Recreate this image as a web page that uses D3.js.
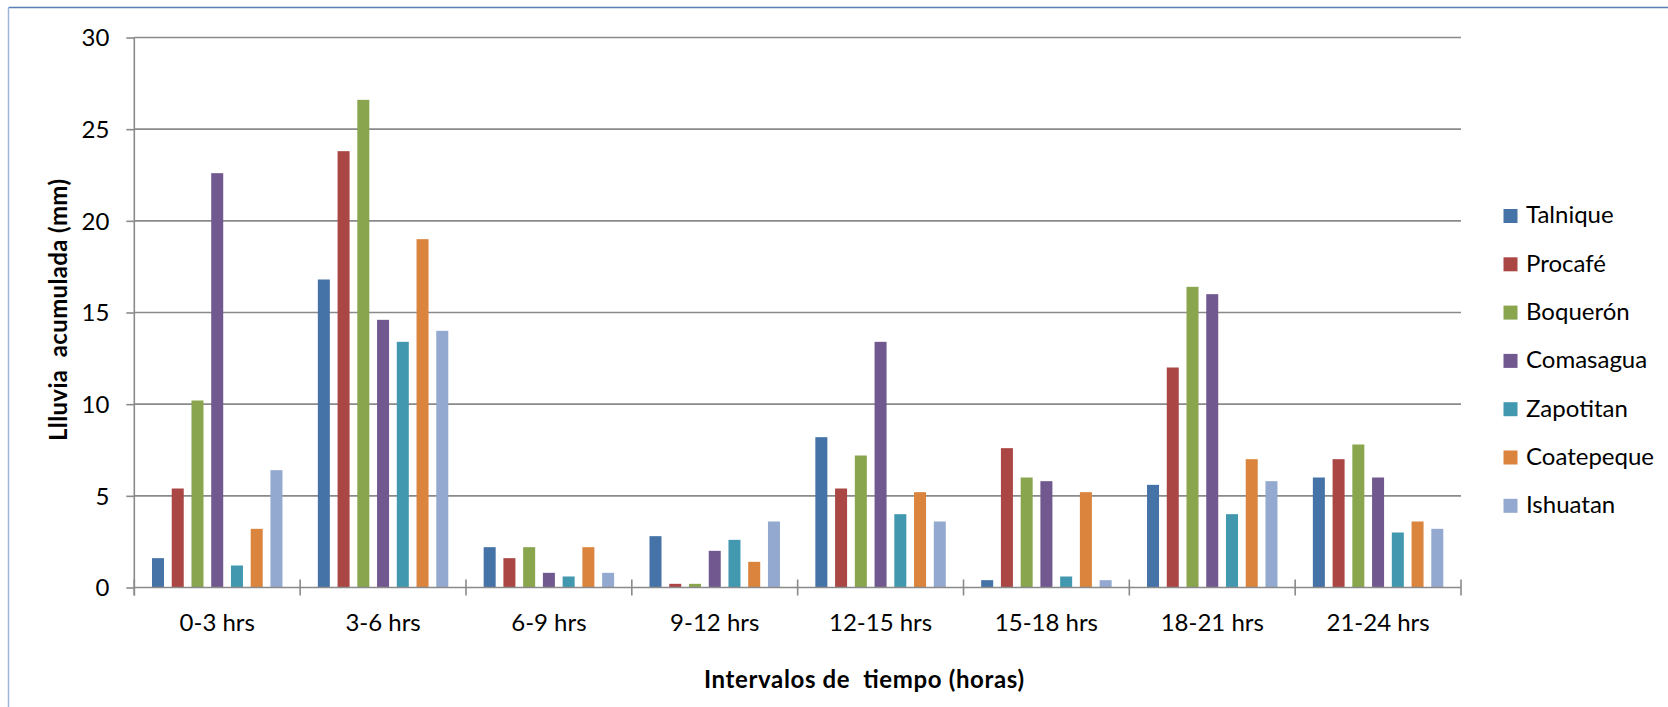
<!DOCTYPE html>
<html>
<head>
<meta charset="utf-8">
<script src="https://cdn.jsdelivr.net/npm/d3@7/dist/d3.min.js"></script>
<style>
  html, body { margin: 0; padding: 0; background: #fff; }
  svg { display: block; }
  text { font-family: Lato, "Open Sans", sans-serif; fill: #000; }
  .title { white-space: pre; }
</style>
</head>
<body>
<svg id="chart" width="1668" height="707"></svg>
<script>
const categories = ["0-3 hrs", "3-6 hrs", "6-9 hrs", "9-12 hrs", "12-15 hrs", "15-18 hrs", "18-21 hrs", "21-24 hrs"];
const seriesNames = ["Talnique", "Procafé", "Boquerón", "Comasagua", "Zapotitan", "Coatepeque", "Ishuatan"];
const seriesColors = ["#4572A7", "#AA4643", "#89A54E", "#71588F", "#4198AF", "#DB843D", "#93A9CF"];
const talnique   = [1.6, 16.8, 2.2, 2.8, 8.2, 0.4, 5.6, 6.0];
const procafe    = [5.4, 23.8, 1.6, 0.2, 5.4, 7.6, 12.0, 7.0];
const boqueron   = [10.2, 26.6, 2.2, 0.2, 7.2, 6.0, 16.4, 7.8];
const comasagua  = [22.6, 14.6, 0.8, 2.0, 13.4, 5.8, 16.0, 6.0];
const zapotitan  = [1.2, 13.4, 0.6, 2.6, 4.0, 0.6, 4.0, 3.0];
const coatepeque = [3.2, 19.0, 2.2, 1.4, 5.2, 5.2, 7.0, 3.6];
const ishuatan   = [6.4, 14.0, 0.8, 3.6, 3.6, 0.4, 5.8, 3.2];
const yTicks = [0, 5, 10, 15, 20, 25, 30];
const yTitle = "Llluvia  acumulada (mm)";
const xTitle = "Intervalos de  tiempo (horas)";

const seriesValues = [talnique, procafe, boqueron, comasagua, zapotitan, coatepeque, ishuatan];

const svg = d3.select("#chart");

// chart frame
svg.append("line").attr("x1", 8.5).attr("x2", 1668).attr("y1", 7.5).attr("y2", 7.5)
  .attr("stroke", "#5a7fb5").attr("stroke-width", 1.5);
svg.append("line").attr("x1", 8.5).attr("x2", 8.5).attr("y1", 7.5).attr("y2", 707)
  .attr("stroke", "#9fb5d8").attr("stroke-width", 1.5);

const plotL = 134.3, plotR = 1461, plotT = 37.5, plotB = 587.5;

const x = d3.scaleBand().domain(categories).range([plotL, plotR]).padding(0);
const xi = d3.scaleBand().domain(seriesNames).range([0, x.bandwidth()])
  .paddingInner(0.392).paddingOuter(0.896).align(0.5);
const y = d3.scaleLinear().domain([0, 30]).range([plotB, plotT]);

// gridlines
svg.append("g").selectAll("line").data(yTicks.filter(d => d > 0)).join("line")
  .attr("x1", plotL).attr("x2", plotR)
  .attr("y1", d => y(d)).attr("y2", d => y(d))
  .attr("stroke", "#8a8a8a").attr("stroke-width", 1.6);

// bars
const groups = svg.append("g").selectAll("g").data(seriesNames).join("g")
  .attr("fill", (d, i) => seriesColors[i]);
groups.selectAll("rect")
  .data((s, si) => categories.map((c, ci) => ({ s, c, v: seriesValues[si][ci] })))
  .join("rect")
  .attr("x", d => x(d.c) + xi(d.s))
  .attr("width", xi.bandwidth())
  .attr("y", d => y(d.v))
  .attr("height", d => y(0) - y(d.v));

// y axis
const yAxis = svg.append("g").attr("transform", `translate(${plotL},0)`)
  .call(d3.axisLeft(y).tickValues(yTicks).tickSize(8).tickPadding(17).tickSizeOuter(0));
yAxis.select(".domain").attr("stroke", "#8a8a8a").attr("stroke-width", 1.6)
  .attr("d", `M0,${plotT}V${plotB + 8}`);
yAxis.selectAll(".tick line").attr("stroke", "#8a8a8a").attr("stroke-width", 1.6);
yAxis.selectAll(".tick text").attr("font-size", 24).attr("dy", "0.35em")
  .style("font-family", "Lato, sans-serif").attr("fill", "#000");

// x axis
const xAxis = svg.append("g").attr("transform", `translate(0,${plotB})`)
  .call(d3.axisBottom(x).tickSize(0).tickPadding(26).tickSizeOuter(0));
xAxis.select(".domain").attr("stroke", "#8a8a8a").attr("stroke-width", 1.6)
  .attr("d", `M${plotL},0H${plotR}`);
xAxis.selectAll(".tick text").attr("font-size", 24)
  .style("font-family", "Lato, sans-serif").attr("fill", "#000");
const bounds = categories.map(c => x(c)).concat([x.range()[1]]);
svg.append("g").selectAll("line").data(bounds).join("line")
  .attr("x1", d => d).attr("x2", d => d)
  .attr("y1", plotB - 8).attr("y2", plotB + 8)
  .attr("stroke", "#8a8a8a").attr("stroke-width", 1.6);

// axis titles
svg.append("text").attr("class", "title")
  .attr("transform", `translate(67,310) rotate(-90)`)
  .attr("text-anchor", "middle")
  .attr("font-size", 24).attr("font-weight", "bold")
  .attr("textLength", 262).attr("lengthAdjust", "spacing")
  .text(yTitle);
svg.append("text").attr("class", "title")
  .attr("x", 864).attr("y", 688)
  .attr("text-anchor", "middle")
  .attr("font-size", 24).attr("font-weight", "bold")
  .attr("textLength", 320).attr("lengthAdjust", "spacing")
  .text(xTitle);

// legend
const legend = svg.append("g").selectAll("g").data(seriesNames).join("g")
  .attr("transform", (d, i) => `translate(1503.5,${209 + i * 48.3})`);
legend.append("rect").attr("width", 14).attr("height", 14)
  .attr("fill", (d, i) => seriesColors[i]);
legend.append("text").attr("x", 22.5).attr("y", 14.3)
  .attr("font-size", 24).text(d => d);
</script>
</body>
</html>
